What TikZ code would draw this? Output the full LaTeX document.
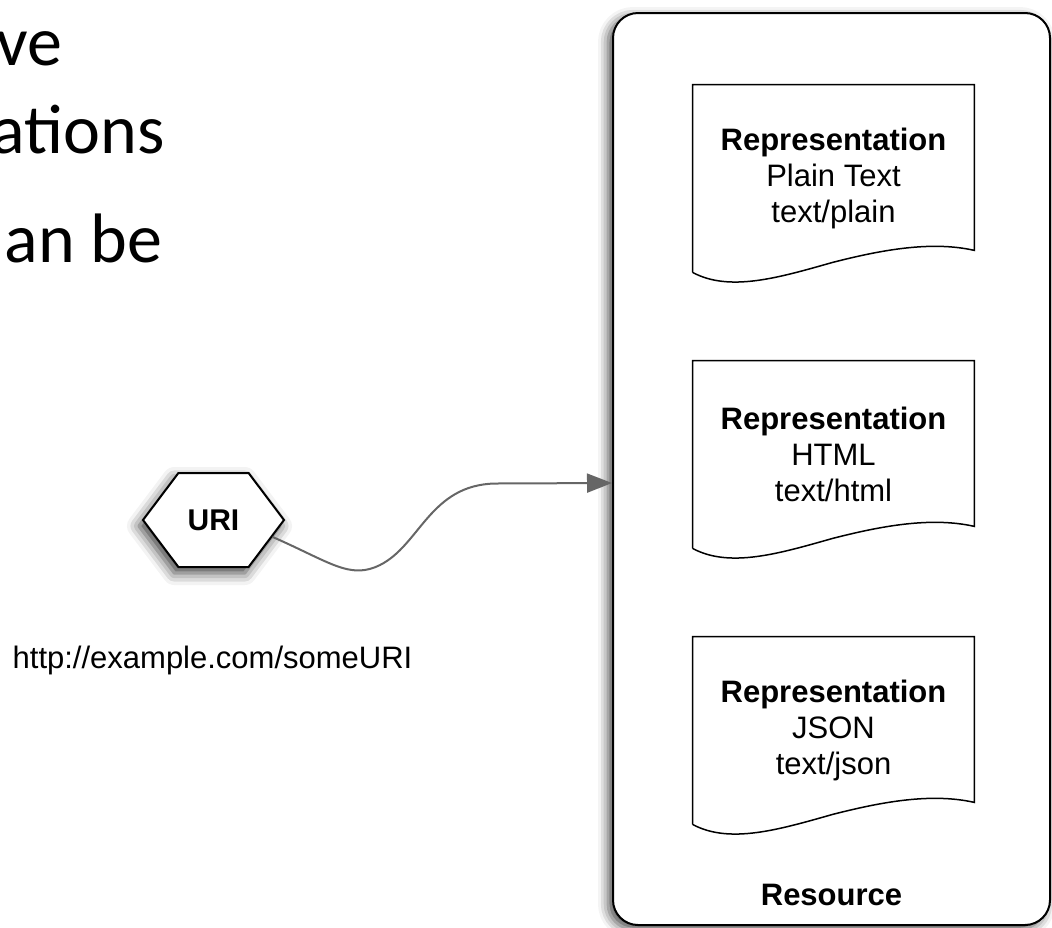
\documentclass[tikz,border=0pt]{standalone}
\usepackage{fontspec}
\setmainfont{Liberation Sans}
\newfontfamily\slidefont{Carlito}
\usetikzlibrary{arrows.meta,shapes.symbols,shadows.blur}

\definecolor{linkgray}{RGB}{102,102,102}

% outline of a representation sheet, wavy bottom edge
\newcommand{\repoutline}[1]{%
  \draw[doc line] (#1.south west) -- (#1.north west) -- (#1.north east)
    -- ([yshift=11pt]#1.south east)
    .. controls +(-22pt,5pt) and +(23.5pt,6pt) .. ([shift={(70pt,5pt)}]#1.south west)
    .. controls +(-26.5pt,-7.5pt) and +(18.5pt,-10pt) .. (#1.south west);}

\begin{document}
\begin{tikzpicture}[x=0.5pt,y=-0.5pt,>={Triangle[length=12.5pt,width=9.5pt]},
  every node/.style={font=\fontsize{15.5}{18}\selectfont},
  slide text/.style={font=\slidefont\fontsize{35}{40}\selectfont,inner sep=0pt},
  res box/.style={draw,line width=1pt,rounded corners=12.5pt,fill=white,
    minimum width=218.5pt,minimum height=456pt,
    blur shadow={shadow xshift=-2.5pt,shadow yshift=-2pt,shadow blur radius=5pt,shadow opacity=70}},
  rep node/.style={align=center,minimum width=140.5pt,minimum height=93.5pt,inner sep=0pt},
  doc line/.style={line width=0.75pt},
  uri node/.style={draw,line width=1pt,fill=white,shape=signal,signal to=east and west,
    signal pointer angle=106,minimum width=70.5pt,minimum height=47pt,inner sep=0pt,
    font=\fontsize{15}{18}\selectfont\bfseries,
    blur shadow={shadow xshift=-2pt,shadow yshift=-3pt,shadow blur radius=6pt,shadow opacity=75}},
  link/.style={->,draw=linkgray,line width=1pt}]

  \useasboundingbox (0,0) rectangle (1052,927);

  % cut-off slide text
  \begin{scope}
    \clip (0,0) rectangle (1052,927);
    \node[slide text,anchor=base east] (line1) at (63,65) {ve};
    \node[slide text,anchor=base east] (line2) at (165,153) {ations};
    \node[slide text,anchor=base east] (line3) at (163,262) {an be};
  \end{scope}

  % resource
  \node[res box] (res) at (831.5,469) {};
  \node[anchor=base,font=\fontsize{15.5}{18}\selectfont\bfseries] (reslabel) at (831.5,905) {Resource};

  \node[rep node] (plain) at (833.5,178.5) {\textbf{Representation}\\Plain Text\\text/plain};
  \node[rep node] (html) at (833.5,454.5) {\textbf{Representation}\\HTML\\text/html};
  \node[rep node] (json) at (833.5,730.5) {\textbf{Representation}\\JSON\\text/json};
  \repoutline{plain}
  \repoutline{html}
  \repoutline{json}

  % uri
  \node[uri node] (uri) at (213.5,520) {URI};
  \node[anchor=base] (url) at (212.5,668) {http://example.com/someURI};

  \draw[link] (uri.-16) .. controls (330,562) and (350,580) .. (380,565)
    .. controls (420,545) and (430,485) .. (495,483.5) -- ([yshift=-7pt]res.west);

\end{tikzpicture}
\end{document}
